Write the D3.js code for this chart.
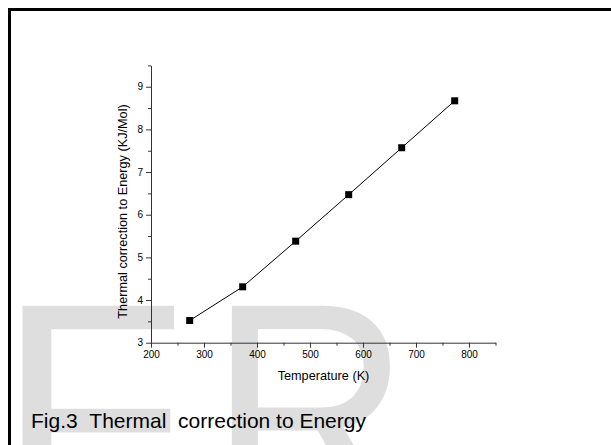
<!DOCTYPE html>
<html>
<head>
<meta charset="utf-8">
<script src="https://cdnjs.cloudflare.com/ajax/libs/d3/7.8.5/d3.min.js"></script>
<style>
  body { margin: 0; background: #fff; }
  svg { display: block; font-family: "Liberation Sans", Arial, sans-serif; }
</style>
</head>
<body>
<svg id="draw-here"></svg>
<script>
// data
const temps = [273, 373, 473, 573, 673, 773];
const energy = [3.52, 4.31, 5.38, 6.47, 7.57, 8.67];
const xTicks = [200, 300, 400, 500, 600, 700, 800];
const xMinor = [250, 350, 450, 550, 650, 750, 850];
const yTicks = [3, 4, 5, 6, 7, 8, 9];
const yMinor = [3.5, 4.5, 5.5, 6.5, 7.5, 8.5, 9.5];

const width = 611, height = 445;
const svg = d3.select('#draw-here')
  .attr('width', width)
  .attr('height', height);

// faded watermark letters behind everything
const wm = svg.append('g').attr('fill', '#dedede')
  .style('font-size', '310px');
wm.append('text').attr('x', -3).attr('y', 519).text('F');
wm.append('text').attr('transform', 'translate(209,519) scale(0.9,1)').text('R');

// page frame (only top and left edges show)
svg.append('rect').attr('x', 8).attr('y', 8).attr('width', width - 8).attr('height', 3).attr('fill', '#000');
svg.append('rect').attr('x', 8).attr('y', 8).attr('width', 3).attr('height', height - 8).attr('fill', '#000');

const x = d3.scaleLinear().domain([200, 850]).range([151, 495.5]);
const y = d3.scaleLinear().domain([3, 9.5]).range([342.7, 65.4]);

// x axis
const gx = svg.append('g').attr('transform', `translate(0,${y(3)})`);
gx.call(d3.axisBottom(x).tickValues(xTicks).tickSize(5).tickSizeOuter(0).tickPadding(3).tickFormat(d3.format('d')));
svg.append('g').attr('transform', `translate(0,${y(3)})`)
  .call(d3.axisBottom(x).tickValues(xMinor).tickSize(3).tickSizeOuter(0).tickFormat(''))
  .select('.domain').remove();

// y axis
const gy = svg.append('g').attr('transform', `translate(${x(200)},0)`);
gy.call(d3.axisLeft(y).tickValues(yTicks).tickSize(5).tickSizeOuter(0).tickPadding(3).tickFormat(d3.format('d')));
svg.append('g').attr('transform', `translate(${x(200)},0)`)
  .call(d3.axisLeft(y).tickValues(yMinor).tickSize(3).tickSizeOuter(0).tickFormat(''))
  .select('.domain').remove();

svg.selectAll('.tick text')
  .style('font-family', '"Liberation Sans", Arial, sans-serif')
  .style('font-size', '10px')
  .attr('fill', '#000');
svg.selectAll('.domain, .tick line').attr('stroke', '#333');

// axis titles
svg.append('text')
  .attr('x', 323.5).attr('y', 380)
  .attr('text-anchor', 'middle')
  .style('font-size', '12.7px')
  .text('Temperature (K)');

svg.append('text')
  .attr('transform', 'translate(127,211.5) rotate(-90)')
  .attr('text-anchor', 'middle')
  .style('font-size', '12.7px')
  .text('Thermal correction to Energy (KJ/Mol)');

// line + square markers
const pts = temps.map((t, i) => [t, energy[i]]);
svg.append('path')
  .datum(pts)
  .attr('fill', 'none')
  .attr('stroke', '#000')
  .attr('stroke-width', 1)
  .attr('d', d3.line().x(d => x(d[0])).y(d => y(d[1])));

svg.selectAll('.pt')
  .data(pts)
  .enter().append('rect')
  .attr('class', 'pt')
  .attr('x', d => x(d[0]) - 3.5)
  .attr('y', d => y(d[1]) - 3.5)
  .attr('width', 7)
  .attr('height', 7)
  .attr('fill', '#000');

// figure caption
svg.append('text')
  .attr('x', 31).attr('y', 428)
  .style('font-size', '21px')
  .text('Fig.3\u00a0\u00a0Thermal\u00a0\u00a0correction to Energy');
</script>
</body>
</html>
